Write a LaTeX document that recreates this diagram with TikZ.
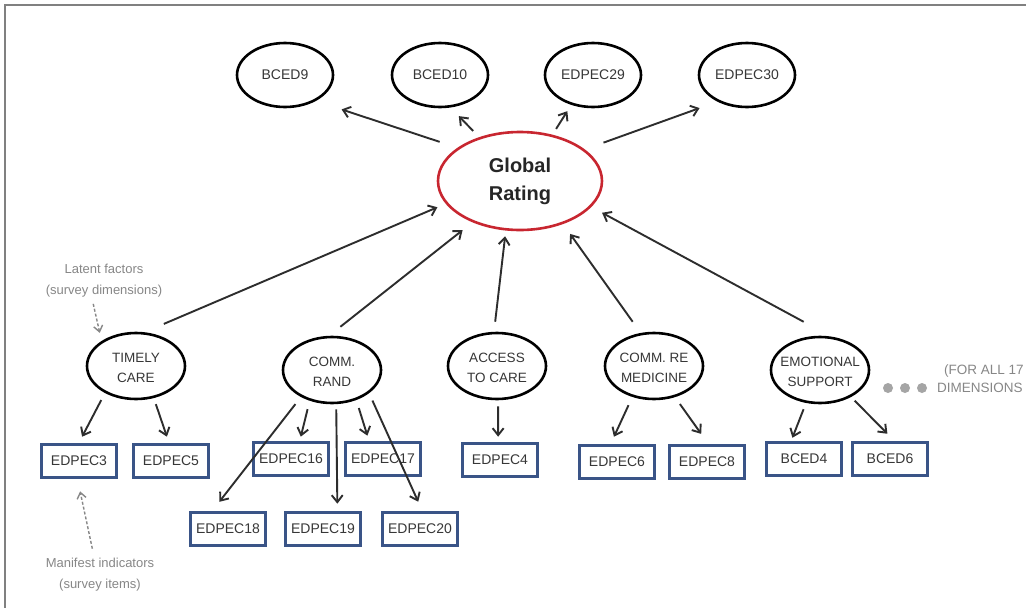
\documentclass[tikz,border=0pt]{standalone}
\usepackage{fontspec}
\setmainfont{Liberation Sans}
\usetikzlibrary{shapes.geometric,arrows.meta}
\definecolor{boxblue}{RGB}{58,84,135}
\definecolor{globred}{RGB}{200,38,48}
\definecolor{txtc}{RGB}{55,55,55}
\definecolor{arrc}{RGB}{45,45,45}
\definecolor{notec}{RGB}{135,135,135}
\definecolor{framec}{RGB}{128,128,128}
\definecolor{dotc}{RGB}{165,165,165}
\tikzset{
  topell/.style={ellipse, draw=black, line width=2.6pt, minimum width=96pt, minimum height=64pt,
    inner sep=0pt, text=txtc, font=\fontsize{14}{16}\selectfont},
  globell/.style={ellipse, draw=globred, line width=2.6pt, minimum width=164pt, minimum height=98pt,
    inner sep=0pt, align=center, text=black!85, font=\bfseries\fontsize{20}{28}\selectfont},
  latell/.style={ellipse, draw=black, line width=2.6pt, minimum width=98pt, minimum height=66pt,
    inner sep=0pt},
  lattxt/.style={align=center, text=txtc, font=\fontsize{13.5}{20}\selectfont, inner sep=0pt, yshift=-2pt},
  itembox/.style={rectangle, draw=boxblue, line width=2.6pt, minimum width=75pt, minimum height=33pt,
    inner sep=0pt, text=txtc, font=\fontsize{14}{16}\selectfont},
  notetxt/.style={align=center, text=notec, font=\fontsize{13}{21}\selectfont, inner sep=0pt,
    minimum width=124pt},
  arrw/.style={draw=arrc, line width=1.9pt, -{Straight Barb[length=7pt,width=11pt]}},
  dsharr/.style={draw=notec, line width=1.4pt, dash pattern=on 3pt off 2pt,
    -{Straight Barb[length=6pt,width=9pt]}},
  dotn/.style={circle, fill=dotc, inner sep=0pt, minimum size=10pt},
}
\begin{document}
\begin{tikzpicture}[x=1pt,y=-1pt]
\useasboundingbox (0,0) rectangle (1026,608);
\clip (0,0) rectangle (1026,608);
\fill[white] (0,0) rectangle (1026,608);
\draw[framec, line width=2pt] (5,608) -- (5,5) -- (1026,5);

% top indicators
\node[topell] (b9)  at (285,75) {BCED9};
\node[topell] (b10) at (440,75) {BCED10};
\node[topell] (e29) at (593,75) {EDPEC29};
\node[topell] (e30) at (747,75) {EDPEC30};

% global
\node[globell] (g) at (520,181) {Global\\Rating};

% latent factors
\node[latell] (tc)  at (136,366) {};
\node[latell] (cr)  at (332,370) {};
\node[latell] (ac)  at (497,366) {};
\node[latell] (med) at (654,366) {};
\node[latell] (emo) at (820,370) {};
\node[lattxt] (tct)  at (tc)  {TIMELY\\CARE};
\node[lattxt] (crt)  at (cr)  {COMM.\\RAND};
\node[lattxt] (act)  at (ac)  {ACCESS\\TO CARE};
\node[lattxt] (medt) at (med) {COMM. RE\\MEDICINE};
\node[lattxt] (emot) at (emo) {EMOTIONAL\\SUPPORT};

% manifest items
\node[itembox] (p3)  at (79,461)  {EDPEC3};
\node[itembox] (p5)  at (171,461) {EDPEC5};
\node[itembox] (p16) at (291,459) {EDPEC16};
\node[itembox] (p17) at (383,459) {EDPEC17};
\node[itembox] (p4)  at (500,460) {EDPEC4};
\node[itembox] (p18) at (228,529) {EDPEC18};
\node[itembox] (p19) at (323,529) {EDPEC19};
\node[itembox] (p20) at (420,529) {EDPEC20};
\node[itembox] (p6)  at (617,462) {EDPEC6};
\node[itembox] (p8)  at (707,462) {EDPEC8};
\node[itembox] (c4)  at (804,459) {BCED4};
\node[itembox] (c6)  at (890,459) {BCED6};

% notes
\node[notetxt, minimum height=36pt] (lat) at (104,281) {Latent factors\\(survey dimensions)};
\node[notetxt, minimum height=44pt] (man) at (100,575) {Manifest indicators\\(survey items)};
\node[dotn] (d1) at (888,388) {};
\node[dotn] (d2) at (905,388) {};
\node[dotn] (d3) at (922,388) {};
\node[anchor=west, align=left, text=notec, font=\fontsize{13.5}{18}\selectfont, inner sep=0pt] (all) at (937,379) {\hspace*{7pt}(FOR ALL 17\\DIMENSIONS};

% global -> top
\draw[arrw, shorten <=18.8pt, shorten >=27pt] (g.152.8) -- (b9.-40.7);
\draw[arrw, shorten <=8.6pt, shorten >=11.9pt] (g.133.2) -- (b10.-72.6);
\draw[arrw, shorten <=6.8pt, shorten >=7.4pt] (g.55.4) -- (e29.-126.1);
\draw[arrw, shorten <=19.9pt, shorten >=19pt] (g.26.2) -- (e30.-138.9);

% latent -> global
\draw[arrw, shorten <=21.1pt, shorten >=9pt] (tc.76.9) -- (g.-163.8);
\draw[arrw, shorten <=14.5pt, shorten >=12.6pt] (cr.95.7) -- (g.-139.7);
\draw[arrw, shorten <=10.1pt, shorten >=5.8pt] (ac.95.4) -- (g.-106.5);
\draw[arrw, shorten <=13.7pt, shorten >=12.1pt] (med.112.2) -- (g.-45.1);
\draw[arrw, shorten <=30.9pt, shorten >=12.2pt] (emo.72.5) -- (g.-20.7);

% latent -> items
\draw[arrw, shorten <=8pt, shorten >=7.3pt] (tc.-139.6) -- (p3.91);
\draw[arrw, shorten <=6.4pt, shorten >=6.9pt] (tc.-61.4) -- (p5.96.2);
\draw[arrw, shorten <=9pt, shorten >=11.9pt] (cr.-139.8) -- (p18.132.7);
\draw[arrw, shorten <=8.7pt, shorten >=4.7pt] (cr.-126.4) -- (p16.64.7);
\draw[arrw, shorten <=5.1pt, shorten >=7.5pt] (cr.-83.1) -- (p19.51.8);
\draw[arrw, shorten <=8.4pt, shorten >=5.8pt] (cr.-51.2) -- (p17.128.7);
\draw[arrw, shorten <=8.1pt, shorten >=10.4pt] (cr.-32.4) -- (p20.82.1);
\draw[arrw, shorten <=6pt, shorten >=5.5pt] (ac.-88.8) -- (p4.96.9);
\draw[arrw, shorten <=9.1pt, shorten >=8.2pt] (med.-125.6) -- (p6.110.9);
\draw[arrw, shorten <=8.4pt, shorten >=12.7pt] (med.-56.1) -- (p8.85.8);
\draw[arrw, shorten <=6.7pt, shorten >=3.7pt] (emo.-113.5) -- (c4.126.5);
\draw[arrw, shorten <=5.1pt, shorten >=10.5pt] (emo.-41.8) -- (c6.75.4);

% note arrows
\draw[dsharr, shorten <=4.8pt, shorten >=8.3pt] (lat.-123.7) -- (tc.144.3);
\draw[dsharr, shorten <=4.2pt, shorten >=12.8pt] (man.107.1) -- (p3.-95.5);
\end{tikzpicture}
\end{document}
